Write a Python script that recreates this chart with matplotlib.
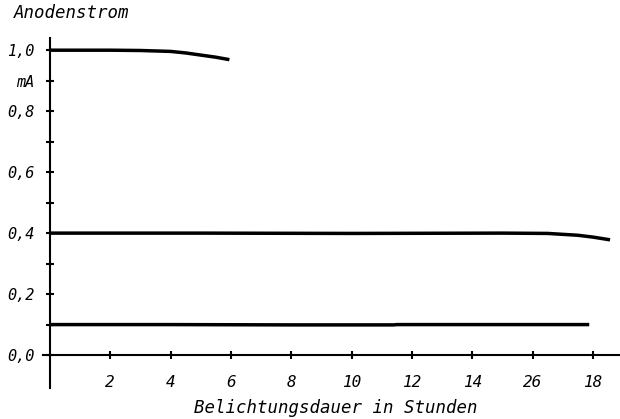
import matplotlib
matplotlib.use("Agg")
import matplotlib.pyplot as plt

# Exposure time (hours) and anode current (mA) for the three measured cells
hours_high = [0, 2, 3, 4, 4.5, 5, 5.5, 5.95]
current_high = [1.0, 1.0, 0.999, 0.996, 0.991, 0.984, 0.977, 0.969]

hours_mid = [0, 5, 10, 15, 16.5, 17.5, 18.0, 18.57]
current_mid = [0.4, 0.4, 0.399, 0.4, 0.399, 0.393, 0.387, 0.378]

hours_low = [0, 4, 8, 11.4, 11.5, 14, 17.88]
current_low = [0.1, 0.1, 0.099, 0.099, 0.1, 0.1, 0.1]

x_ticks = [2, 4, 6, 8, 10, 12, 14, 16, 18]
x_tick_labels = ["2", "4", "6", "8", "10", "12", "14", "26", "18"]
y_ticks = [0.0, 0.1, 0.2, 0.3, 0.4, 0.5, 0.6, 0.7, 0.8, 0.9, 1.0]
y_tick_labels = ["0,0", "", "0,2", "", "0,4", "", "0,6", "", "0,8", "mA", "1,0"]

font = dict(family="DejaVu Sans Mono", style="oblique")

fig = plt.figure(figsize=(6.2, 4.19), dpi=100)
ax = fig.add_axes([43 / 620, 1 - 388 / 419, 577 / 620, 350 / 419])

for h, c in [(hours_high, current_high), (hours_mid, current_mid), (hours_low, current_low)]:
    ax.plot(h, c, color="black", lw=2.5, solid_capstyle="butt")

ax.set_xlim(-0.23, 18.9)
ax.set_ylim(-0.108, 1.04)

for side in ("top", "right"):
    ax.spines[side].set_visible(False)
ax.spines["left"].set_position(("data", 0))
ax.spines["bottom"].set_position(("data", 0))
ax.spines["bottom"].set_bounds(-0.23, 18.9)
for side in ("left", "bottom"):
    ax.spines[side].set_linewidth(1.5)

ax.set_xticks(x_ticks)
ax.set_xticklabels(x_tick_labels, fontsize=11.5, **font)
ax.set_yticks(y_ticks)
ax.set_yticklabels(y_tick_labels, fontsize=11, **font)
ax.tick_params(axis="x", direction="inout", length=6, width=1.5, pad=11)
ax.tick_params(axis="y", direction="inout", length=6, width=1.5, pad=8)

fig.text(14 / 620, 1 - 13 / 419, "Anodenstrom", ha="left", va="center", fontsize=12.5, **font)
fig.text(336 / 620, 1 - 408 / 419, "Belichtungsdauer in Stunden", ha="center", va="center",
         fontsize=12.5, **font)

fig.savefig("out.png", dpi=100)
